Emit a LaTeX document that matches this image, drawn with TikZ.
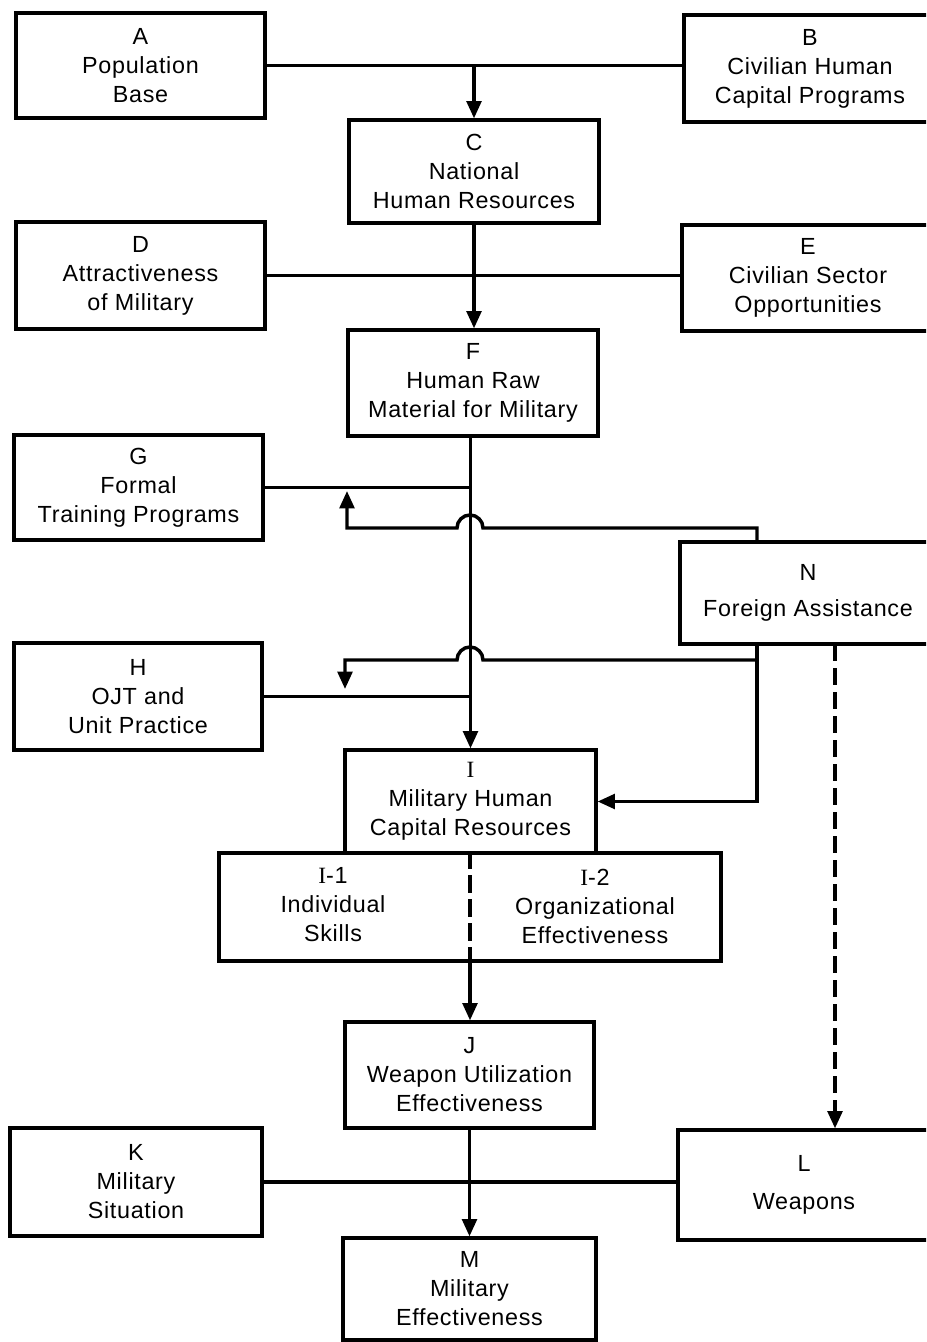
\documentclass[tikz,border=0pt]{standalone}
\usepackage{fontspec}
\setmainfont[LetterSpace=3]{Liberation Sans}
\newfontfamily\romI{Liberation Serif}
\usetikzlibrary{arrows.meta,calc}
\tikzset{
  txt/.style={align=center,inner sep=0pt,font=\fontsize{17.5}{21.75}\selectfont},
  bx/.style 2 args={txt,draw,line width=2.4pt,minimum width=#1*0.75pt,minimum height=#2*0.75pt},
  conn/.style={line width=2.6pt},
  tip/.style={-{Triangle[length=13pt,width=11pt]}},
  arr/.style={conn,tip},
  dsh/.style={conn,dash pattern=on 13pt off 5pt}
}
\begin{document}
\begin{tikzpicture}[x=0.75pt,y=-0.75pt]
\useasboundingbox (0,0) rectangle (926,1342);
\clip (0,0) rectangle (926,1342);
% boxes
\node[bx={249}{105}] (A) at (140.5,65.5) {A\\Population\\Base};
\node[bx={252}{107}] (B) at (810,68.5) {B\\Civilian Human\\Capital Programs};
\node[bx={250}{103}] (C) at (474,171.5) {C\\National\\Human Resources};
\node[bx={249}{107}] (D) at (140.5,275.5) {D\\Attractiveness\\of Military};
\node[bx={252}{106}] (E) at (808,278) {E\\Civilian Sector\\Opportunities};
\node[bx={250}{106}] (F) at (473,383) {F\\Human Raw\\Material for Military};
\node[bx={249}{105}] (G) at (138.5,487.5) {G\\Formal\\Training Programs};
\node[bx={256}{102}] (N) at (808,593) {N\\[5pt]Foreign Assistance};
\node[bx={248}{107}] (H) at (138,696.5) {H\\OJT and\\Unit Practice};
\node[bx={502}{108}] (I12) at (470,907) {};
\node[bx={251}{103}] (I) at (470.5,801.5) {{\romI I}\\Military Human\\Capital Resources};
\node[txt] (I1) at (333,905) {{\romI I}-1\\Individual\\Skills};
\node[txt] (I2) at (595,906) {{\romI I}-2\\Organizational\\Effectiveness};
\node[bx={249}{106}] (J) at (469.5,1075) {J\\Weapon Utilization\\Effectiveness};
\node[bx={252}{108}] (K) at (136,1182) {K\\Military\\Situation};
\node[bx={252}{110}] (L) at (804,1185) {L\\[7pt]Weapons};
\node[bx={253}{102}] (M) at (469.5,1289) {M\\Military\\Effectiveness};
% coordinates
\coordinate (n1) at (757,542);
\coordinate (j1r) at (483,528);
\coordinate (j1c) at (347,528);
\coordinate (g1) at (347,491);
\coordinate (n2) at (757,644);
\coordinate (j2s) at (757,660);
\coordinate (j2r) at (483,660);
\coordinate (j2c) at (345,660);
\coordinate (h1) at (345,689);
\coordinate (n3) at (835,644);
% connectors
\draw[conn] (A.east) -- (A.east -| B.west);
\draw[arr] (A.east -| C.north) -- (C.north);
\draw[conn] (D.east) -- (D.east -| E.west);
\draw[arr] (C.south) -- (C.south |- F.north);
\draw[arr] (F.south -| I.north) -- (I.north);
\draw[conn] (G.east) -- (G.east -| I.north);
\draw[conn] (H.east) -- (H.east -| I.north);
\draw[arr] (n1) |- (j1r) arc[start angle=0,end angle=-180,radius=13] -- (j1c) -- (g1);
\draw[arr] (n2) |- (I.east);
\draw[arr] (j2s) -- (j2r) arc[start angle=0,end angle=-180,radius=13] -- (j2c) -- (h1);
\draw[dsh,tip] (n3) -- (n3 |- L.north);
\draw[dsh] (I12.north) -- (I12.south);
\draw[arr] (I12.south) -- (I12.south |- J.north);
\draw[conn] (K.east) -- (K.east -| L.west);
\draw[arr] (J.south) -- (M.north);
\end{tikzpicture}
\end{document}
